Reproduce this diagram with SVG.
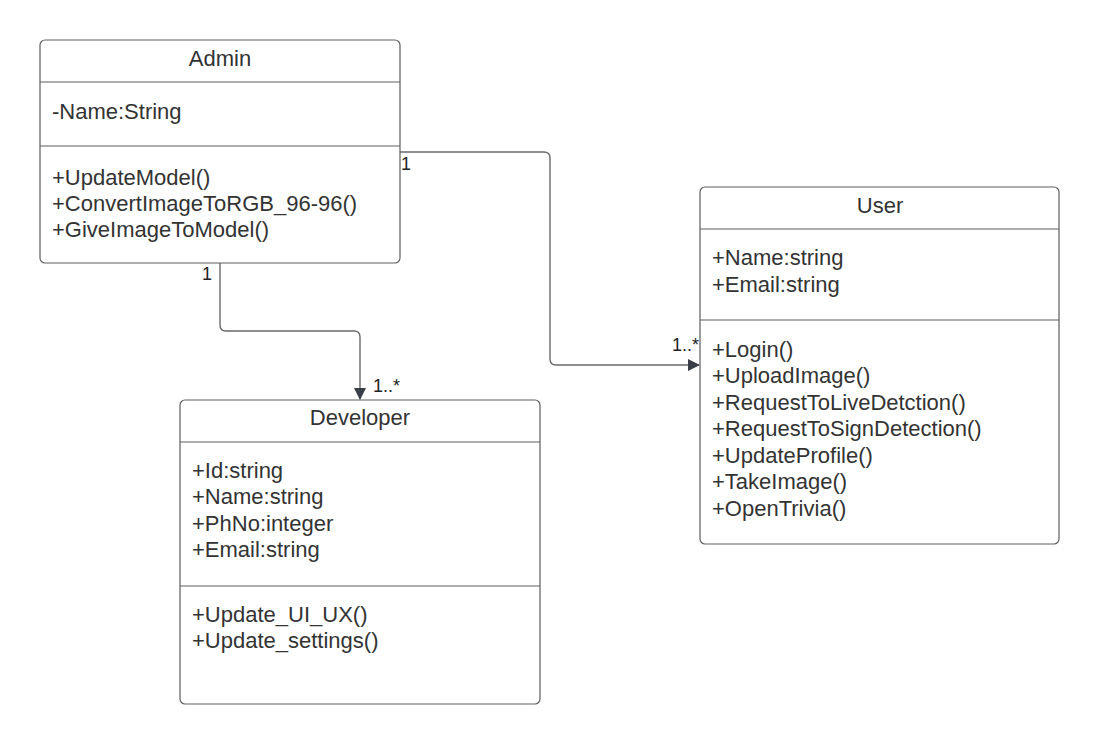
<svg xmlns="http://www.w3.org/2000/svg" width="1100" height="744" viewBox="0 0 1100 744">
<style>
.box{fill:#fff;stroke:#5e5e5e;stroke-width:1.2}
.div{stroke:#5e5e5e;stroke-width:1.2}
.t{font-family:"Liberation Sans",Arial,sans-serif;font-size:22px;fill:#333}
.h{font-family:"Liberation Sans",Arial,sans-serif;font-size:22px;fill:#333;text-anchor:middle}
.lbl{font-family:"Liberation Sans",Arial,sans-serif;font-size:18px;fill:#222}
.conn{fill:none;stroke:#6a6a6a;stroke-width:1.4}
</style>
<defs>
<marker id="arr" markerWidth="12" markerHeight="12" refX="11" refY="6" orient="auto" markerUnits="userSpaceOnUse"><path d="M0,0 L12,6 L0,12 z" fill="#3a3f47"/></marker>
</defs>
<rect width="1100" height="744" fill="#fff"/>
<g id="connectors">
<path class="conn" d="M400,152 H544 Q550,152 550,158 V359 Q550,365 556,365 H699" marker-end="url(#arr)"/>
<path class="conn" d="M220,263 V325 Q220,331 226,331 H354 Q360,331 360,337 V399" marker-end="url(#arr)"/>
<text class="lbl" x="401" y="170">1</text>
<text class="lbl" x="672" y="351">1..*</text>
<text class="lbl" x="202" y="280">1</text>
<text class="lbl" x="373" y="392">1..*</text>
</g>
<g id="admin">
<rect class="box" x="40" y="40" width="360" height="223" rx="5"/>
<line class="div" x1="40" y1="82" x2="400" y2="82"/>
<line class="div" x1="40" y1="146" x2="400" y2="146"/>
<text class="h" x="220" y="66">Admin</text>
<text class="t" x="52" y="119">-Name:String</text>
<text class="t" x="52" y="185">+UpdateModel()</text>
<text class="t" x="52" y="211">+ConvertImageToRGB_96-96()</text>
<text class="t" x="52" y="237">+GiveImageToModel()</text>
</g>
<g id="user">
<rect class="box" x="700" y="187" width="359" height="357" rx="5"/>
<line class="div" x1="700" y1="229" x2="1059" y2="229"/>
<line class="div" x1="700" y1="320" x2="1059" y2="320"/>
<text class="h" x="880" y="213">User</text>
<text class="t" x="712" y="265">+Name:string</text>
<text class="t" x="712" y="292">+Email:string</text>
<text class="t" x="712" y="357">+Login()</text>
<text class="t" x="712" y="383">+UploadImage()</text>
<text class="t" x="712" y="410">+RequestToLiveDetction()</text>
<text class="t" x="712" y="436">+RequestToSignDetection()</text>
<text class="t" x="712" y="463">+UpdateProfile()</text>
<text class="t" x="712" y="489">+TakeImage()</text>
<text class="t" x="712" y="516">+OpenTrivia()</text>
</g>
<g id="developer">
<rect class="box" x="180" y="400" width="360" height="304" rx="5"/>
<line class="div" x1="180" y1="442" x2="540" y2="442"/>
<line class="div" x1="180" y1="586" x2="540" y2="586"/>
<text class="h" x="360" y="425">Developer</text>
<text class="t" x="192" y="478">+Id:string</text>
<text class="t" x="192" y="504">+Name:string</text>
<text class="t" x="192" y="531">+PhNo:integer</text>
<text class="t" x="192" y="557">+Email:string</text>
<text class="t" x="192" y="622">+Update_UI_UX()</text>
<text class="t" x="192" y="648">+Update_settings()</text>
</g>
</svg>
